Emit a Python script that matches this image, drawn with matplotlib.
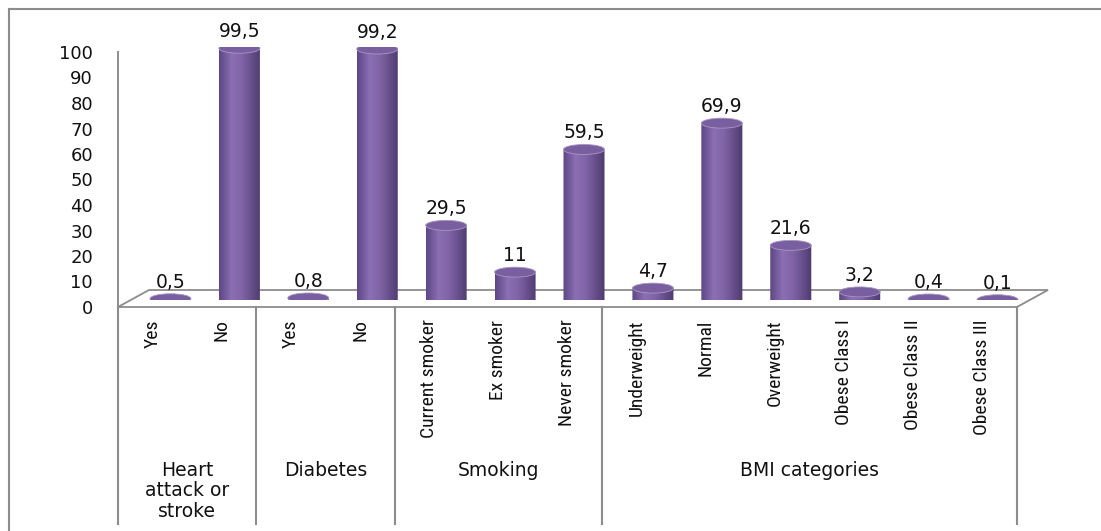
import numpy as np
import matplotlib.pyplot as plt
import matplotlib.transforms as mtransforms
from matplotlib import font_manager
from matplotlib.patches import Ellipse, Polygon, PathPatch
from matplotlib.path import Path
from matplotlib.lines import Line2D
from matplotlib.colors import LinearSegmentedColormap

labels = ['Yes', 'No', 'Yes', 'No', 'Current smoker', 'Ex smoker', 'Never smoker',
          'Underweight', 'Normal', 'Overweight', 'Obese Class I', 'Obese Class II',
          'Obese Class III']
values = [0.5, 99.5, 0.8, 99.2, 29.5, 11, 59.5, 4.7, 69.9, 21.6, 3.2, 0.4, 0.1]
groups = ['Heart\nattack or\nstroke', 'Diabetes', 'Smoking', 'BMI categories']
group_sizes = [2, 2, 3, 6]
yticks = list(range(0, 101, 10))

# narrow face for the rotated category labels, if one is around
installed = {f.name for f in font_manager.fontManager.ttflist}
narrow = None
for name in ['Liberation Sans Narrow', 'DejaVu Sans Condensed', 'Roboto Condensed',
             'Open Sans Condensed', 'Noto Sans Condensed']:
    if name in installed:
        narrow = name
        break
if narrow:
    cat_font = dict(family=narrow, fontsize=14)
else:
    cat_font = dict(family='DejaVu Sans', fontsize=11.5)

W, H = 1101, 531
fig = plt.figure(figsize=(W / 100, H / 100), dpi=100)


def px_axes(left, top, right, bottom):
    return fig.add_axes([left / W, 1 - bottom / H, (right - left) / W, (bottom - top) / H])


n = len(values)
# front plane (value axis + category labels) and the bar plane set back in depth
ax_front = px_axes(118, 52, 1017, 307)
ax = px_axes(136, 47, 1032, 300)
for a in (ax_front, ax):
    a.set_xlim(-0.5, n - 0.5)
    a.set_ylim(0, 100)
    a.patch.set_visible(False)
    for s in a.spines.values():
        s.set_visible(False)

grey = '#8c8c8c'
ax_front.spines['left'].set_visible(True)
ax_front.spines['left'].set_color(grey)
ax_front.spines['left'].set_linewidth(1.4)
ax_front.set_yticks(yticks)
ax_front.tick_params(axis='y', length=0, pad=18, labelsize=13, labelcolor='#111111')
ax_front.set_xticks(range(n))
ax_front.set_xticklabels(labels, rotation=90, **cat_font)
ax_front.tick_params(axis='x', length=0, pad=9, labelcolor='#111111')
ax.set_xticks([])
ax.set_yticks([])

# floor of the 3-D plot
dx, dy = 31 / 899, 17 / 255
floor = Polygon([(0, 0), (1, 0), (1 + dx, dy), (dx, dy)], closed=True,
                transform=ax_front.transAxes, facecolor='white', edgecolor=grey,
                lw=1.3, clip_on=False, zorder=0)
ax_front.add_patch(floor)

# cylinders
cmap = LinearSegmentedColormap.from_list(
    'cyl', [(0, '#5d4885'), (0.3, '#8b6fb3'), (0.55, '#8064a6'), (1, '#4e3b70')])
grad = np.linspace(0, 1, 64).reshape(1, -1)
hw = 20.5 / 68.9
ry = 5 / 2.53
t = np.linspace(0, -np.pi, 40)
for i, v in enumerate(values):
    x0, x1 = i - hw, i + hw
    verts = [(x0, 0), (x0, v), (x1, v), (x1, 0)]
    verts += list(zip(i + hw * np.cos(t), ry * np.sin(t)))
    verts.append((x0, 0))
    body = PathPatch(Path(verts, closed=True), facecolor='none', edgecolor='none',
                     transform=ax.transData)
    ax.add_patch(body)
    im = ax.imshow(grad, cmap=cmap, extent=[x0, x1, -ry, v], aspect='auto',
                   zorder=2, interpolation='bilinear')
    im.set_clip_path(body)
    ax.add_patch(Ellipse((i, v), 2 * hw, 2 * ry, facecolor='#7a5fa0',
                         edgecolor='#a898c4', lw=0.6, zorder=3))
    txt = f'{v:g}'.replace('.', ',')
    ax.annotate(txt, (i, v), xytext=(0, 8), textcoords='offset points',
                ha='center', va='baseline', fontsize=13.5, color='#111111',
                annotation_clip=False)
ax.set_xlim(-0.5, n - 0.5)
ax.set_ylim(0, 100)

# category table below the axis
bounds = np.concatenate([[0], np.cumsum(group_sizes)]) - 0.5
tb = mtransforms.blended_transform_factory(ax_front.transData, fig.transFigure)
for b in bounds:
    fig.add_artist(Line2D([b, b], [1 - 307 / H, 1 - 524 / H], transform=tb,
                          color=grey, lw=1.5))
for g, lo, hi in zip(groups, bounds[:-1], bounds[1:]):
    fig.text((lo + hi) / 2, 1 - 461 / H, g, transform=tb, ha='center', va='top',
             fontsize=13.5, linespacing=1.1, color='#111111')

# chart border
fig.add_artist(Line2D([9 / W, 1], [1 - 9 / H, 1 - 9 / H], transform=fig.transFigure,
                      color=grey, lw=1.5))
fig.add_artist(Line2D([9 / W, 9 / W], [1 - 9 / H, 0], transform=fig.transFigure,
                      color=grey, lw=1.5))

fig.savefig('out.png', dpi=100)
